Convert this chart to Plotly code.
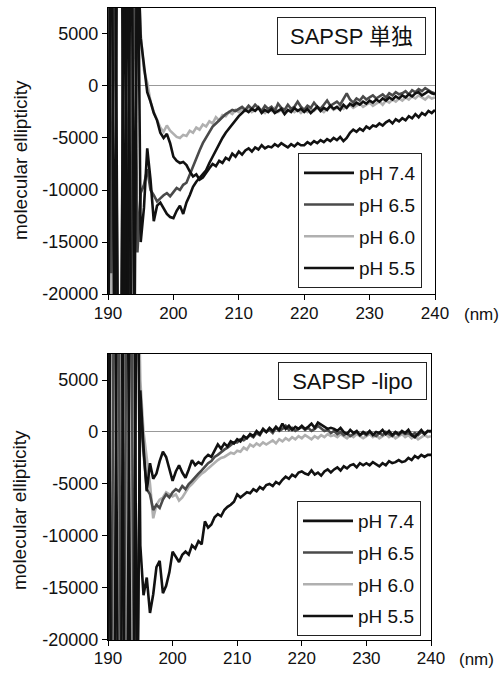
import numpy as np
import plotly.graph_objects as go

# wavelength grid (nm), 0.5 nm steps
wavelength = np.arange(190.0, 240.01, 0.5)

series_names = ["pH 7.4", "pH 6.5", "pH 6.0", "pH 5.5"]
series_colors = ["#111111", "#4a4a4a", "#b0b0b0", "#111111"]

# ---- top panel: SAPSP 単独 ----
top_ph74 = [-16000, 25000, -30000, 30000, 28000, -25000, 20000, -22000, -30000, 20000,
            -15000, -11700, -6000, -9000, -13000, -11500, -11200, -11800, -12300, -12600,
            -12700, -12000, -11500, -12300, -11200, -10500, -9700, -9200, -8800, -8400,
            -8100, -7400, -6800, -6200, -5500, -5000, -4500, -4100, -3600, -3200,
            -2900, -2600, -2300, -2500, -2200, -2400, -2100, -2600, -2300, -2500,
            -2200, -2600, -2400, -2200, -2700, -2300, -2500, -2100, -2400, -2200,
            -2500, -2200, -2600, -2300, -2000, -2400, -2100, -2300, -1900, -2200,
            -2000, -2300, -1800, -2100, -1700, -1900, -1600, -1800, -1500, -1700,
            -1400, -1600, -1300, -1500, -1200, -1400, -1100, -1300, -1000, -1200,
            -900, -1100, -800, -1000, -700, -600, -900, -700, -500, -700,
            -800]
top_ph65 = [22000, -18000, 15000, -25000, -28000, 24000, -14000, -26000, 18000, -16000,
            -10300, -9500, -8000, -10000, -10500, -11100, -10800, -10500, -10300, -10600,
            -10200, -9800, -10000, -9500, -9300, -8500, -7700, -7000, -6200, -5500,
            -5000, -4400, -3900, -3600, -3300, -3000, -2700, -2500, -2300, -2400,
            -2200, -2000, -2300, -1900, -2200, -1800, -2100, -2400, -1900, -2200,
            -2000, -2400, -1700, -2100, -2300, -1800, -2200, -2000, -1500, -2000,
            -2300, -1900, -2100, -1600, -2000, -2200, -1800, -1400, -1900, -1700,
            -1500, -1800, -1200, -700, -1300, -1600, -1200, -1400, -1000, -1300,
            -1100, -900, -1200, -1000, -800, -1100, -700, -900, -600, -800,
            -700, -500, -800, -400, -600, -300, -500, -200, -400, -600,
            -700]
top_ph60 = [9000, -30000, 28000, 30000, 26000, -26000, 30000, -18000, 27000, 14000,
            5000, 1500, 300, -1500, -2500, -3200, -4000, -4400, -3800, -4300,
            -4600, -4900, -5000, -4700, -4800, -4300, -4500, -4000, -4200, -3700,
            -3900, -3400, -3600, -3000, -3300, -2800, -2900, -2500, -2700, -2300,
            -2500, -2200, -2400, -2100, -2500, -2300, -2000, -2400, -2600, -2200,
            -2400, -2100, -2500, -2300, -2700, -2400, -2200, -2500, -2300, -2600,
            -2300, -2500, -2200, -2400, -2100, -2300, -2500, -2200, -2000, -2300,
            -2100, -1900, -2200, -2000, -1800, -2100, -1900, -1700, -2000, -1800,
            -1600, -1900, -1700, -1500, -1800, -1400, -1600, -1300, -1500, -1200,
            -1400, -1100, -1300, -1000, -1200, -900, -1100, -1300, -1000, -1200,
            -1100]
top_ph55 = [-30000, 20000, 28000, -25000, -30000, 22000, -30000, 26000, -20000, 14000,
            4600, 2000, -600, -1500, -2600, -3300, -4500, -5000, -4600, -5500,
            -6800, -7200, -7400, -7300, -7600, -8200, -8700, -8500, -9000, -8800,
            -8300, -7900, -7500, -7700, -7200, -7400, -6900, -7100, -6500, -6800,
            -6300, -6600, -6200, -6000, -6300, -5900, -6100, -5700, -6000, -5800,
            -5900, -5600, -5800, -5500, -5700, -5900, -5600, -5800, -5500, -5700,
            -5700, -5400, -5600, -5300, -5500, -5200, -5400, -5100, -5300, -5000,
            -5200, -4900, -5300, -5000, -4500, -4200, -4400, -4100, -4300, -3900,
            -4100, -3800, -3900, -3600, -3800, -3500, -3300, -3600, -3200, -3400,
            -3100, -3300, -2900, -3100, -2700, -3000, -2600, -2800, -2400, -2600,
            -2300]

# ---- bottom panel: SAPSP -lipo ----
bot_ph74 = [25000, -30000, -28000, 30000, 26000, -22000, -27000, 28000, 24000, -30000,
            4000, -1500, -5700, -3000, -4500, -4000, -2800, -1900, -2400, -3600,
            -4700, -3800, -3200, -3900, -4400, -3600, -2700, -3200, -2900, -3100,
            -2500, -2200, -2400, -1800, -1200, -1600, -1100, -1400, -900, -1100,
            -700, -900, -400, -600, -200, -400, 100, -200, 300, 0,
            400, 100, 500, 200, 800, 300, 600, 200, 500, 300,
            600, 300, 500, 800, 400, 900, 700, 500, 300, 400,
            300, 100, 400, 0, -200, 200, -100, 100, -300, 0,
            -200, 100, -300, 0, -100, 200, -200, 100, -300, 0,
            -200, 100, -100, 200, -300, -500, -100, 200, -200, 100,
            100]
bot_ph65 = [-28000, -26000, 24000, 30000, -27000, -22000, 30000, 26000, -23000, -28000,
            3000, -2000, -5500, -6000, -7500, -7000, -7300, -6500, -6000, -6300,
            -5800, -5500, -5700, -5200, -5500, -5000, -4700, -4300, -4000, -3700,
            -3300, -3000, -2800, -2400, -2200, -1900, -1700, -1500, -1200, -1000,
            -1000, -700, -800, -500, -300, -500, -100, -300, 200, 0,
            200, -100, 400, 100, 300, 600, 200, 400, 100, 300,
            500, 200, 400, 100, 300, 600, 300, 100, 200, -100,
            100, -200, 0, -300, -100, -400, -200, 0, -300, -100,
            -300, 0, -200, -400, -100, -300, 0, -200, -400, -100,
            -300, 0, -200, -100, -300, -100, -300, 0, -200, 100,
            0]
bot_ph60 = [30000, 25000, -26000, -30000, 23000, 26000, -29000, -24000, 27000, 22000,
            5000, 0, -2500, -5000, -8300, -7000, -6500, -6300, -5800, -6000,
            -6200, -6000, -6600, -6300, -5800, -5300, -5000, -4600, -4300, -4000,
            -3800, -3500, -3200, -3000, -2700, -2500, -2400, -2200, -2000, -2100,
            -1800, -1900, -1500, -1700, -1200, -1400, -1100, -1300, -1000, -1200,
            -1000, -800, -1100, -700, -900, -600, -800, -500, -700, -400,
            -600, -300, -500, -700, -400, -600, -300, -500, -200, -400,
            -300, -500, -200, -400, -600, -300, -500, -200, -400, -600,
            -400, -200, -500, -300, -600, -400, -200, -500, -300, -600,
            -400, -200, -500, -300, -600, -400, -700, -500, -300, -500,
            -400]
bot_ph55 = [-26000, 30000, 28000, -24000, -30000, 27000, 22000, -29000, -25000, 26000,
            -10900, -15700, -14000, -17400, -15600, -13000, -12400, -15500, -14800, -13500,
            -11500, -12000, -12500, -11800, -11500, -11800, -10900, -11200, -10500, -10800,
            -8600, -9200, -8900, -8200, -7900, -8100, -7500, -7200, -7000, -6700,
            -6000, -6300, -6000, -5800, -5900, -5500, -5700, -5300, -5500, -5100,
            -5000, -5200, -4800, -5000, -4600, -4300, -4500, -4100, -4300, -3900,
            -3800, -4000, -4100, -3700, -4100, -3900, -4200, -3800, -3600, -3900,
            -3600, -3400, -3700, -3300, -3500, -3200, -3100, -3400, -3000, -3200,
            -3000, -3200, -2900, -3100, -3300, -3000, -3200, -2800, -3000, -2900,
            -2700, -2900, -2800, -2500, -2700, -2300, -2500, -2200, -2400, -2200,
            -2200]

top_series = [top_ph74, top_ph65, top_ph60, top_ph55]
bot_series = [bot_ph74, bot_ph65, bot_ph60, bot_ph55]

x_tickvals = [190, 200, 210, 220, 230, 240]
y_tickvals = [-20000, -15000, -10000, -5000, 0, 5000]
y_ticktext = ["-20000", "-15000", "-10000", "-5000", "0", "5000"]

FONT = "Liberation Sans, Arial, Noto Sans CJK JP, sans-serif"

fig = go.Figure()

# draw order: light gray first so dark lines on top
order = [2, 1, 3, 0]
for panel, (series, xa, ya, leg) in enumerate([(top_series, "x", "y", "legend"),
                                               (bot_series, "x2", "y2", "legend2")]):
    for i in order:
        fig.add_trace(go.Scatter(
            x=wavelength, y=series[i], mode="lines", name=series_names[i],
            line=dict(color=series_colors[i], width=2.6),
            xaxis=xa, yaxis=ya, legend=leg, legendgroup=f"{panel}_{i}",
            legendrank=i + 1, showlegend=True))

axis_common = dict(showline=True, linecolor="black", linewidth=1.2, mirror=True,
                   ticks="outside", ticklen=5, tickcolor="black", tickwidth=1.2,
                   showgrid=False, automargin=False)
xfont = dict(family=FONT, size=17, color="#111")
yfont = dict(family=FONT, size=18, color="#111")
legfont = dict(family=FONT, size=19, color="#111")

fig.update_layout(
    width=500, height=677, margin=dict(l=0, r=0, t=0, b=0, autoexpand=False),
    paper_bgcolor="white", plot_bgcolor="white", showlegend=True,
    font=dict(family=FONT, color="#111"),
    xaxis=dict(domain=[0.216, 0.87], range=[190, 240], tickvals=x_tickvals,
               anchor="y", tickfont=xfont, ticklabelstandoff=-2, **axis_common),
    yaxis=dict(domain=[0.5657, 0.9882], range=[-20000, 7500], tickvals=y_tickvals,
               ticktext=y_ticktext, anchor="x", zeroline=True, zerolinecolor="#999",
               zerolinewidth=1, tickfont=yfont, **axis_common),
    xaxis2=dict(domain=[0.216, 0.862], range=[190, 240], tickvals=x_tickvals,
                anchor="y2", tickfont=xfont, ticklabelstandoff=-2, **axis_common),
    yaxis2=dict(domain=[0.0547, 0.4771], range=[-20000, 7500], tickvals=y_tickvals,
                ticktext=y_ticktext, anchor="x2", zeroline=True, zerolinecolor="#999",
                zerolinewidth=1, tickfont=yfont, **axis_common),
    legend=dict(x=0.596, y=0.774, xanchor="left", yanchor="top",
                bordercolor="#222", borderwidth=1, bgcolor="white",
                font=legfont, tracegroupgap=4, itemwidth=50),
    legend2=dict(x=0.594, y=0.26, xanchor="left", yanchor="top",
                 bordercolor="#222", borderwidth=1, bgcolor="white",
                 font=legfont, tracegroupgap=4, itemwidth=50),
)

annotations = [
    dict(text="SAPSP 単独", x=351 / 500, y=1 - 36 / 677),
    dict(text="SAPSP -lipo", x=352 / 500, y=1 - 381 / 677),
]
for a in annotations:
    fig.add_annotation(text=a["text"], x=a["x"], y=a["y"], xref="paper", yref="paper",
                       showarrow=False, font=dict(family=FONT, size=22, color="#111"),
                       bordercolor="#222", borderwidth=1, bgcolor="white",
                       width=145, height=34, borderpad=1, xanchor="center", yanchor="middle")

for ytxt in [1 - 160 / 677, 1 - 510 / 677]:
    fig.add_annotation(text="molecular ellipticity", x=20 / 500, y=ytxt, xref="paper",
                       yref="paper", showarrow=False, textangle=-90,
                       xanchor="center", yanchor="middle",
                       font=dict(family=FONT, size=19, color="#111"))

for xt, yt in [(481 / 500, 1 - 314 / 677), (476 / 500, 1 - 659 / 677)]:
    fig.add_annotation(text="(nm)", x=xt, y=yt, xref="paper", yref="paper",
                       showarrow=False, xanchor="center", yanchor="middle",
                       font=dict(family=FONT, size=17, color="#111"))

fig.write_html("out.html", config={"displayModeBar": False},
               post_script="document.body.style.margin='0';document.body.style.overflow='hidden';")
